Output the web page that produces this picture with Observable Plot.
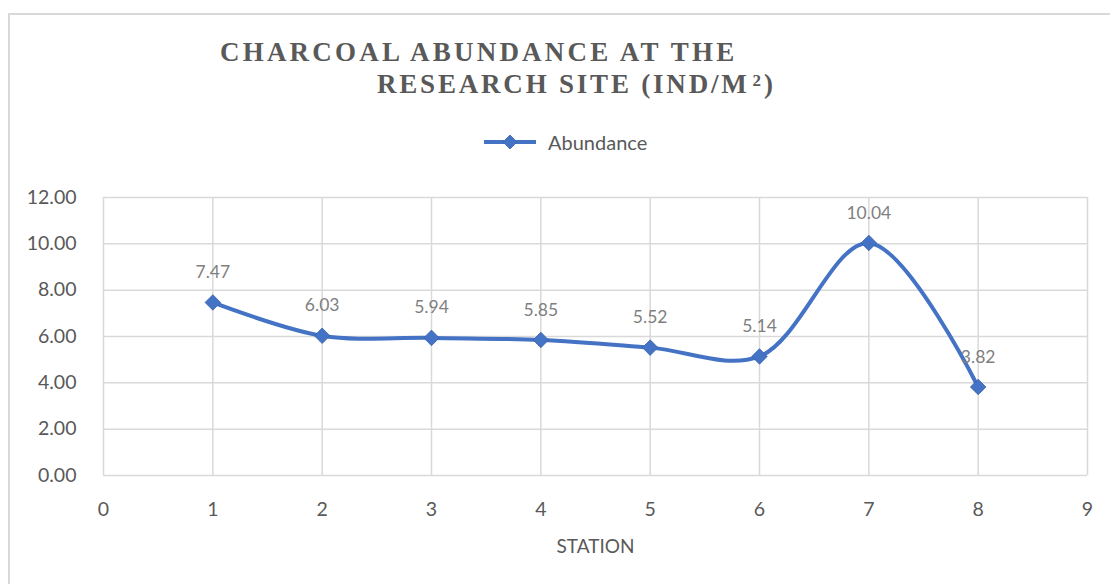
<!DOCTYPE html>
<html>
<head>
<meta charset="utf-8">
<script src="https://cdn.jsdelivr.net/npm/d3@7"></script>
<script src="https://cdn.jsdelivr.net/npm/@observablehq/plot@0.6"></script>
<style>
  html, body { margin: 0; padding: 0; background: #fff; width: 1110px; height: 584px; overflow: hidden; }
  #frame { position: absolute; left: 8px; top: 13px; width: 1200px; height: 700px;
           border-left: 2px solid #d9d9d9; border-top: 2px solid #d9d9d9; box-sizing: border-box; }
  .title { position: absolute; font-family: "Liberation Serif", "DejaVu Serif", serif; font-weight: bold;
           color: #595959; font-size: 27px; letter-spacing: 3.2px; white-space: nowrap; line-height: 1; }
  #t1 { left: 220px; top: 39px; }
  #t2 { left: 377px; top: 71px; letter-spacing: 2.8px; }
  #legend { position: absolute; left: 484px; top: 129px; height: 26px; display: flex; align-items: center;
            font-family: Lato, "Open Sans", sans-serif; font-size: 20px; color: #595959; }
  #chart { position: absolute; left: 0; top: 170px; }
</style>
</head>
<body>
<div id="frame"></div>
<div class="title" id="t1">CHARCOAL ABUNDANCE AT THE</div>
<div class="title" id="t2">RESEARCH SITE (IND/M<span style="font-size:17px;vertical-align:7px;margin-left:3px">2</span>)</div>
<div id="legend">
  <svg width="64" height="20" style="margin-right:0px">
    <line x1="0" y1="10" x2="52" y2="10" stroke="#4472C4" stroke-width="4"/>
    <path d="M26,3 L33,10 L26,17 L19,10 Z" fill="#4472C4" stroke="#3a63ad" stroke-width="0.8"/>
  </svg>
  <span>Abundance</span>
</div>
<div id="chart"></div>
<script>
const stations = [1, 2, 3, 4, 5, 6, 7, 8];
const abundance = [7.47, 6.03, 5.94, 5.85, 5.52, 5.14, 10.04, 3.82];
const xTicks = [0, 1, 2, 3, 4, 5, 6, 7, 8, 9];
const yTicks = [0, 2, 4, 6, 8, 10, 12];

const data = stations.map((s, i) => ({station: s, value: abundance[i]}));
const blue = "#4472C4";
const grey = "#595959";
const font = "Lato, 'Open Sans', sans-serif";

const chart = Plot.plot({
  width: 1110,
  height: 414,
  marginLeft: 103,
  marginRight: 23,
  marginTop: 27,
  marginBottom: 109,
  style: {fontFamily: font, background: "transparent", overflow: "visible"},
  x: {domain: [0, 9], ticks: xTicks},
  y: {domain: [0, 12], ticks: yTicks},
  marks: [
    Plot.gridX(xTicks, {stroke: "#d9d9d9", strokeOpacity: 1, strokeWidth: 1.5}),
    Plot.gridY(yTicks, {stroke: "#d9d9d9", strokeOpacity: 1, strokeWidth: 1.5}),
    Plot.axisY(yTicks, {tickSize: 0, tickPadding: 27, tickFormat: d => d.toFixed(2), fontSize: 19.5, fill: grey, label: null}),
    Plot.axisX(xTicks, {tickSize: 0, tickPadding: 27, fontSize: 19.5, fill: grey, label: null}),
    Plot.text(["STATION"], {frameAnchor: "bottom", dy: 77, fontSize: 19, fill: grey, text: d => d}),
    Plot.line(data, {x: "station", y: "value", stroke: blue, strokeWidth: 4, curve: "catmull-rom"}),
    Plot.dot(data, {x: "station", y: "value", symbol: "diamond2", r: 7, fill: blue, stroke: "#3a63ad", strokeWidth: 0.8}),
    Plot.text(data, {x: "station", y: "value", text: d => d.value.toFixed(2), dy: -30, fontSize: 17.5, fill: "#7f7f7f"})
  ]
});
document.getElementById("chart").appendChild(chart);
</script>
</body>
</html>
